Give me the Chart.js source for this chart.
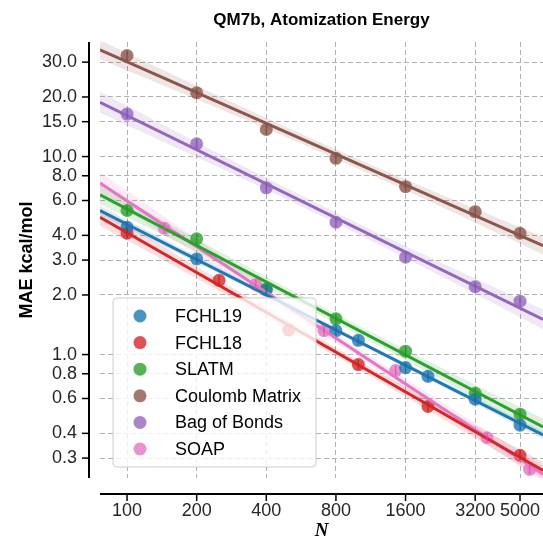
<!DOCTYPE html>
<html>
<head>
<meta charset="utf-8">
<script src="https://cdn.jsdelivr.net/npm/chart.js@4.4.1/dist/chart.umd.min.js"></script>
<style>
  html,body{margin:0;padding:0;background:#fff;}
  #wrap{width:543px;height:539px;}
</style>
</head>
<body>
<div id="wrap"><canvas id="c" width="543" height="539"></canvas></div>
<script>
// ---- data ----
const SERIES = ["FCHL19", "FCHL18", "SLATM", "Coulomb Matrix", "Bag of Bonds", "SOAP"];
const COLORS = ["#1f77b4", "#d62728", "#2ca02c", "#8c564b", "#9467bd", "#e377c2"];

const fchl19N   = [100, 200, 400, 800, 1000, 1600, 2000, 3200, 5000];
const fchl19MAE = [4.39, 3.04, 2.12, 1.32, 1.18, 0.86, 0.776, 0.595, 0.44];
const fchl18N   = [100, 250, 500, 1000, 2000, 5000];
const fchl18MAE = [4.10, 2.37, 1.33, 0.89, 0.547, 0.31];
const slatmN    = [100, 200, 400, 800, 1600, 3200, 5000];
const slatmMAE  = [5.34, 3.84, 2.15, 1.515, 1.04, 0.637, 0.50];
const cmN       = [100, 200, 400, 800, 1600, 3200, 5000];
const cmMAE     = [32.4, 21.0, 13.7, 9.8, 7.05, 5.27, 4.1];
const bobN      = [100, 200, 400, 800, 1600, 3200, 5000];
const bobMAE    = [16.4, 11.6, 6.95, 4.66, 3.10, 2.20, 1.86];
const soapN     = [145, 360, 710, 1450, 3600, 5500];
const soapMAE   = [4.34, 2.26, 1.32, 0.83, 0.38, 0.263];

const X_TICKS = [100, 200, 400, 800, 1600, 3200, 5000];
const Y_TICKS = [0.3, 0.4, 0.6, 0.8, 1, 2, 3, 4, 6, 8, 10, 15, 20, 30];
const X_MIN = 76.4, X_MAX = 6285;
const Y_MIN = 0.238, Y_MAX = 37.9;

const SANS = '"Liberation Sans", Arial, sans-serif';
const INK = '#262626';

const allN   = [fchl19N, fchl18N, slatmN, cmN, bobN, soapN];
const allMAE = [fchl19MAE, fchl18MAE, slatmMAE, cmMAE, bobMAE, soapMAE];

// ---- log-log regression + 95% ci band ----
const T95 = {2:4.303, 3:3.182, 4:2.776, 5:2.571, 6:2.447, 7:2.365, 8:2.306};
function fitLog(xs, ys){
  const lx = xs.map(Math.log10), ly = ys.map(Math.log10);
  const n = lx.length;
  const mx = lx.reduce((a,b)=>a+b,0)/n, my = ly.reduce((a,b)=>a+b,0)/n;
  let sxx=0, sxy=0;
  lx.forEach((x,i)=>{ sxx += (x-mx)*(x-mx); sxy += (x-mx)*(ly[i]-my); });
  const b = sxy/sxx, a = my - b*mx;
  let sse = 0;
  lx.forEach((x,i)=>{ const r = ly[i] - (a + b*x); sse += r*r; });
  const s = Math.sqrt(sse/(n-2));
  return { a, b, mx, sxx, s, n, t: T95[n-2] || 2.3 };
}
function predict(f, x){ return Math.pow(10, f.a + f.b*Math.log10(x)); }
function ciHalf(f, x){
  const d = Math.log10(x) - f.mx;
  return f.t * f.s * Math.sqrt(1/f.n + d*d/f.sxx);
}

const datasets = [];
SERIES.forEach((name, i)=>{
  const col = COLORS[i];
  const f = fitLog(allN[i], allMAE[i]);
  // band samples along x (drawn from the fit, not from data)
  const up = [], lo = [];
  const steps = 40, l0 = Math.log10(X_MIN), l1 = Math.log10(X_MAX);
  for(let k=0;k<=steps;k++){
    const x = Math.pow(10, l0 + (l1-l0)*k/steps);
    const c = f.a + f.b*Math.log10(x), h = ciHalf(f, x);
    up.push({x, y: Math.pow(10, c+h)});
    lo.push({x, y: Math.pow(10, c-h)});
  }
  datasets.push({ type:'line', data: up, borderWidth:0, pointRadius:0, fill:false, order:3 });
  datasets.push({ type:'line', data: lo, borderWidth:0, pointRadius:0, fill:'-1',
    backgroundColor: Chart.helpers.color(col).alpha(0.15).rgbString(), order:3 });
  datasets.push({ type:'scatter', label:name, baseColor: col,
    data: allN[i].map((n,j)=>({x:n, y:allMAE[i][j]})),
    backgroundColor: Chart.helpers.color(col).alpha(0.8).rgbString(),
    borderWidth:0, pointRadius:6.5, order:2 });
  datasets.push({ type:'line', data:[{x:X_MIN, y:predict(f, X_MIN)}, {x:X_MAX, y:predict(f, X_MAX)}],
    borderColor: col, borderWidth:3, pointRadius:0, fill:false, order:1 });
});

// ---- spines, ticks, legend, title ----
const decor = {
  id:'decor',
  afterDatasetsDraw(chart){
    const {ctx, chartArea:a} = chart;
    ctx.save();
    // small estimator bars through each mean point
    chart.data.datasets.forEach((d, di)=>{
      if(d.type !== 'scatter') return;
      ctx.strokeStyle = Chart.helpers.color(d.baseColor).darken(0.15).alpha(0.7).rgbString();
      ctx.lineWidth = 1.5;
      chart.getDatasetMeta(di).data.forEach(p=>{
        ctx.beginPath(); ctx.moveTo(p.x, p.y-5); ctx.lineTo(p.x, p.y+5); ctx.stroke();
      });
    });
    // legend inside plot
    const bx = a.left + 13, by = a.top + 256, bw = 203, bh = 169;
    ctx.beginPath();
    ctx.roundRect(bx, by, bw, bh, 4);
    ctx.fillStyle = 'rgba(255,255,255,0.8)';
    ctx.fill();
    ctx.strokeStyle = '#cccccc'; ctx.lineWidth = 1;
    ctx.stroke();
    const pts = chart.data.datasets.filter(d=>d.type==='scatter');
    ctx.font = '18px ' + SANS;
    ctx.textBaseline = 'middle'; ctx.textAlign = 'left';
    pts.forEach((d, i)=>{
      const yy = by + 18 + i*26.6;
      ctx.beginPath(); ctx.arc(bx + 27, yy, 6.5, 0, Math.PI*2);
      ctx.fillStyle = d.backgroundColor; ctx.fill();
      ctx.fillStyle = '#000';
      ctx.fillText(d.label, bx + 62, yy + 1);
    });
    ctx.restore();
  },
  afterDraw(chart){
    const {ctx, chartArea:a, scales:{x, y}} = chart;
    ctx.save();
    ctx.strokeStyle = '#000';
    const sx = a.left - 11, sy = a.bottom + 16;
    ctx.lineWidth = 2;
    ctx.beginPath(); ctx.moveTo(sx, a.top); ctx.lineTo(sx, a.bottom); ctx.stroke();
    ctx.beginPath(); ctx.moveTo(a.left, sy); ctx.lineTo(a.right, sy); ctx.stroke();
    ctx.lineWidth = 1.5;
    Y_TICKS.forEach(v=>{
      const py = y.getPixelForValue(v);
      ctx.beginPath(); ctx.moveTo(sx-7, py); ctx.lineTo(sx, py); ctx.stroke();
    });
    X_TICKS.forEach(v=>{
      const px = x.getPixelForValue(v);
      ctx.beginPath(); ctx.moveTo(px, sy); ctx.lineTo(px, sy+7); ctx.stroke();
    });
    // title centred over the axes
    ctx.fillStyle = '#000';
    ctx.font = 'bold 17px ' + SANS;
    ctx.textAlign = 'center'; ctx.textBaseline = 'middle';
    ctx.fillText('QM7b, Atomization Energy', (a.left + a.right)/2, 20);
    ctx.restore();
  }
};

function noPad(s){ s.paddingLeft = 0; s.paddingRight = 0; s.paddingTop = 0; s.paddingBottom = 0; }

new Chart(document.getElementById('c'), {
  type: 'scatter',
  data: { datasets },
  plugins: [decor],
  options: {
    responsive: false,
    animation: false,
    layout: { autoPadding: false, padding: { top: 42, left: 0, right: 0, bottom: 0 } },
    plugins: { legend: { display:false }, tooltip: { enabled:false }, title: { display:false } },
    scales: {
      x: {
        type: 'logarithmic', min: X_MIN, max: X_MAX,
        afterBuildTicks: s => { s.ticks = X_TICKS.map(v=>({value:v})); },
        afterFit: s => { s.height = 61; noPad(s); },
        ticks: { autoSkip:false, maxRotation:0, padding:22, color:INK,
                 font:{ family:SANS, size:18 }, callback: v => String(v) },
        grid: { color:'#b0b0b0', lineWidth:1, drawTicks:false },
        border: { display:false, dash:[5,3] },
        title: { display:true, text:'N', color:'#000', padding:{top:0, bottom:-2},
                 font:{ family:'"Liberation Serif", "DejaVu Serif", serif', style:'italic', weight:'bold', size:19, lineHeight:1 } }
      },
      y: {
        type: 'logarithmic', min: Y_MIN, max: Y_MAX,
        afterBuildTicks: s => { s.ticks = Y_TICKS.map(v=>({value:v})); },
        afterFit: s => { s.width = 100; noPad(s); },
        ticks: { autoSkip:false, padding:23, color:INK,
                 font:{ family:SANS, size:18 }, callback: v => Number(v).toFixed(1) },
        grid: { color:'#b0b0b0', lineWidth:1, drawTicks:false },
        border: { display:false, dash:[5,3] },
        title: { display:true, text:'MAE kcal/mol', color:'#000', padding:{top:16, bottom:0},
                 font:{ family:SANS, weight:'bold', size:18 } }
      }
    }
  }
});
</script>
</body>
</html>
